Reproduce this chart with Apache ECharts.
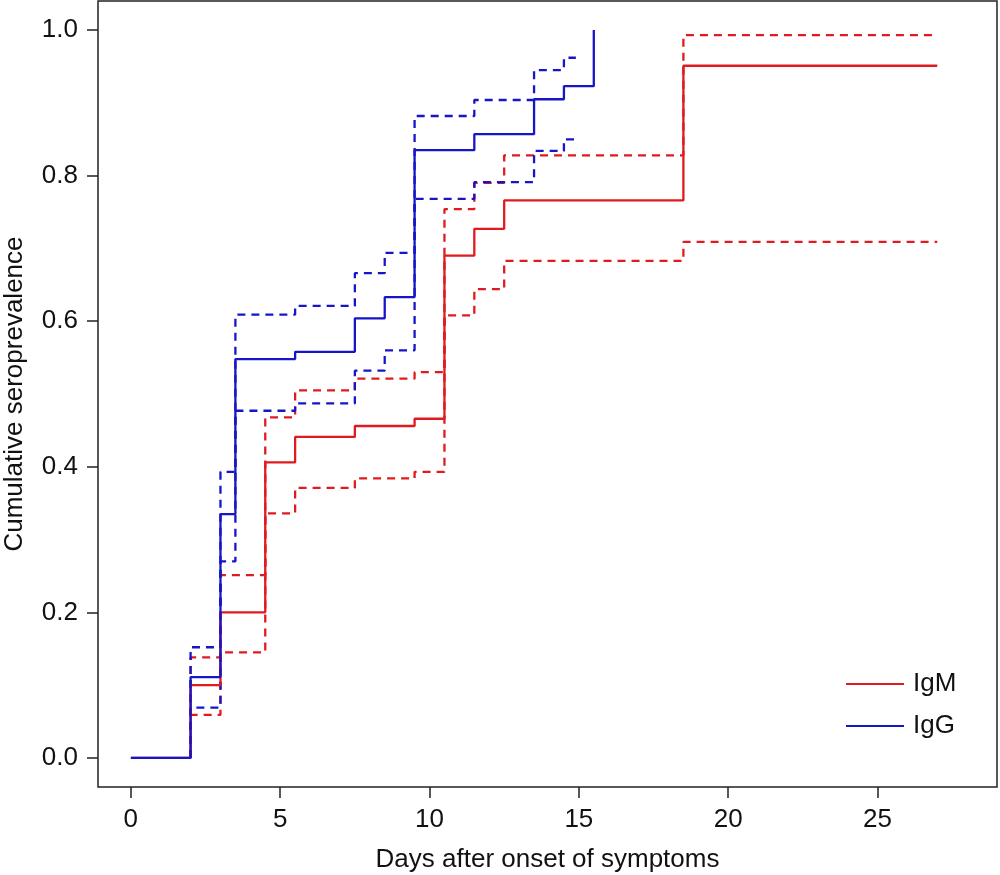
<!DOCTYPE html>
<html>
<head>
<meta charset="utf-8">
<script src="https://cdn.jsdelivr.net/npm/echarts@6/dist/echarts.min.js"></script>
<style>
html,body{margin:0;padding:0;background:#fff;}
#chart{width:1000px;height:875px;}
</style>
</head>
<body>
<div id="chart"></div>
<script>
// ---- Data ----
const xTicks = [0, 5, 10, 15, 20, 25];
const yTicks = [0, 0.2, 0.4, 0.6, 0.8, 1.0];

const igmTimes   = [0, 2, 3, 4.5, 5.5, 7.5, 9.5, 10.5, 11.5, 12.5, 18.5, 27];
const igmEst     = [0, 0.100, 0.200, 0.406, 0.441, 0.456, 0.466, 0.690, 0.727, 0.766, 0.951, 0.951];
const igmCiTimes = [2, 2, 3, 4.5, 5.5, 7.5, 9.5, 10.5, 11.5, 12.5, 18.5, 27];
const igmLower   = [0, 0.059, 0.145, 0.336, 0.371, 0.384, 0.393, 0.608, 0.644, 0.683, 0.709, 0.709];
const igmUpper   = [0, 0.138, 0.251, 0.468, 0.505, 0.521, 0.530, 0.754, 0.790, 0.828, 0.993, 0.993];

const iggTimes   = [0, 2, 3, 3.5, 5.5, 7.5, 8.5, 9.5, 11.5, 13.5, 14.5, 15.5];
const iggEst     = [0, 0.111, 0.335, 0.548, 0.558, 0.604, 0.633, 0.835, 0.857, 0.905, 0.923, 1.0];
const iggCiTimes = [2, 2, 3, 3.5, 5.5, 7.5, 8.5, 9.5, 11.5, 13.5, 14.5, 14.9];
const iggLower   = [0, 0.069, 0.270, 0.477, 0.487, 0.532, 0.560, 0.768, 0.791, 0.834, 0.850, 0.850];
const iggUpper   = [0, 0.152, 0.393, 0.609, 0.621, 0.666, 0.694, 0.882, 0.904, 0.945, 0.962, 0.962];

const RED = '#e01b1f';
const BLUE = '#1616c8';
const FONT = "'Liberation Sans', Arial, Helvetica, sans-serif";
const FS = 26;

function pairs(xs, ys) { return xs.map((x, i) => [x, ys[i]]); }

function stepSeries(name, xs, ys, color, dashed) {
  return {
    name: name,
    type: 'line',
    step: 'end',
    data: pairs(xs, ys),
    showSymbol: false,
    symbol: 'none',
    animation: false,
    silent: true,
    color: color,
    lineStyle: {
      color: color,
      width: 2.3,
      type: dashed ? [8, 6] : 'solid'
    }
  };
}

const chart = echarts.init(document.getElementById('chart'), null, { renderer: 'canvas' });
chart.setOption({
  backgroundColor: '#ffffff',
  animation: false,
  textStyle: { fontFamily: FONT },
  grid: {
    left: 98, right: 3, top: 1, bottom: 88,
    containLabel: false,
    outerBoundsMode: 'none',
    show: true, borderColor: '#222', borderWidth: 1.5, backgroundColor: 'transparent'
  },
  legend: {
    data: ['IgM', 'IgG'],
    orient: 'vertical',
    left: 841,
    top: 666,
    icon: 'rect',
    itemWidth: 58,
    itemHeight: 2,
    itemGap: 16,
    textStyle: { fontFamily: FONT, fontSize: FS, color: '#111', padding: [0, 0, 0, 4] }
  },
  xAxis: {
    type: 'value',
    min: -1.1,
    max: 29.0,
    name: 'Days after onset of symptoms',
    nameLocation: 'middle',
    nameGap: 60,
    nameTextStyle: { fontFamily: FONT, fontSize: FS, color: '#111' },
    axisLine: { show: false, onZero: false },
    splitLine: { show: false },
    axisTick: { show: true, inside: false, length: 11, lineStyle: { color: '#222', width: 1.5 }, customValues: xTicks },
    axisLabel: {
      fontFamily: FONT, fontSize: FS, color: '#111', margin: 20,
      customValues: xTicks,
      formatter: v => String(v)
    }
  },
  yAxis: {
    type: 'value',
    min: -0.04,
    max: 1.04,
    name: 'Cumulative seroprevalence',
    nameLocation: 'middle',
    nameGap: 70,
    nameTextStyle: { fontFamily: FONT, fontSize: FS, color: '#111' },
    axisLine: { show: false, onZero: false },
    splitLine: { show: false },
    axisTick: { show: true, inside: false, length: 11, lineStyle: { color: '#222', width: 1.5 }, customValues: yTicks },
    axisLabel: {
      fontFamily: FONT, fontSize: FS, color: '#111', margin: 20,
      customValues: yTicks,
      formatter: v => v.toFixed(1)
    }
  },
  series: [
    stepSeries('IgM lower', igmCiTimes, igmLower, RED, true),
    stepSeries('IgM upper', igmCiTimes, igmUpper, RED, true),
    stepSeries('IgG lower', iggCiTimes, iggLower, BLUE, true),
    stepSeries('IgG upper', iggCiTimes, iggUpper, BLUE, true),
    stepSeries('IgM', igmTimes, igmEst, RED, false),
    stepSeries('IgG', iggTimes, iggEst, BLUE, false)
  ]
});
</script>
</body>
</html>
